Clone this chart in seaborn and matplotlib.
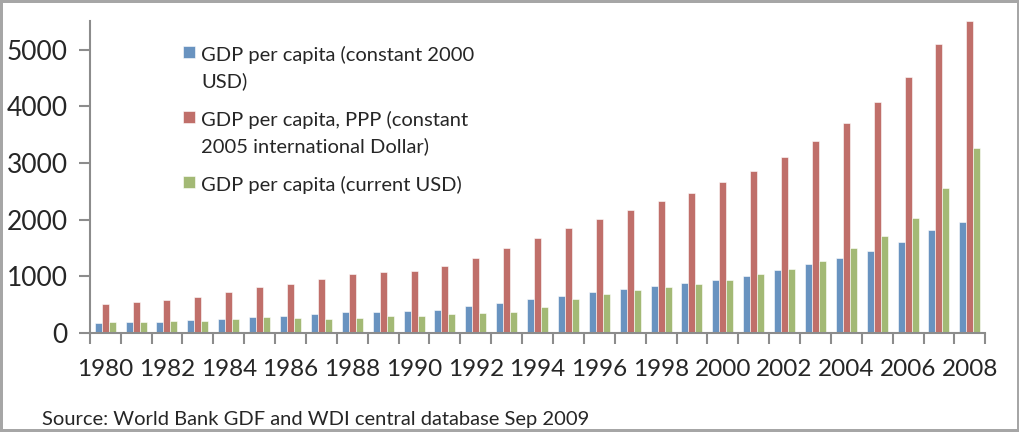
"""
GDP per capita, 1980-2008 (grouped bars)
"""
import matplotlib
matplotlib.use('Agg')
import matplotlib.pyplot as plt
import seaborn as sns
import pandas as pd
import numpy as np

years = [str(y) for y in range(1980, 2009)]

gdp_const_2000 = [176, 188, 200, 229, 247, 282, 306, 341, 365, 376,
                  388, 412, 470, 529, 600, 659, 717, 776, 823, 882,
                  941, 1011, 1105, 1211, 1317, 1446, 1611, 1811, 1964]
gdp_ppp_2005 = [517, 547, 582, 635, 717, 811, 870, 953, 1047, 1070,
                1094, 1176, 1329, 1505, 1682, 1846, 2011, 2176, 2328, 2474,
                2669, 2863, 3098, 3392, 3709, 4080, 4521, 5091, 5508]
gdp_current = [194, 188, 206, 212, 247, 282, 270, 247, 270, 306,
               306, 329, 353, 365, 459, 600, 694, 764, 811, 858,
               941, 1035, 1129, 1270, 1494, 1717, 2023, 2557, 3263]

series_names = ['GDP per capita (constant 2000\nUSD)',
                'GDP per capita, PPP (constant\n2005 international Dollar)',
                'GDP per capita (current USD)']
COLORS = ['#5B92CE', '#CE625C', '#A7C46A']

y_ticks = [0, 1000, 2000, 3000, 4000, 5000]
x_labels = years[::2]
source = 'Source: World Bank GDF and WDI central database Sep 2009'

sns.set_style('white')
plt.rcParams['font.family'] = ['Lato', 'DejaVu Sans']

df = pd.concat([
    pd.DataFrame({'year': years, 'value': vals, 'series': name})
    for name, vals in zip(series_names, [gdp_const_2000, gdp_ppp_2005, gdp_current])
])

fig = plt.figure(figsize=(10.2, 4.32), dpi=100, edgecolor='#A6A6A6', linewidth=3)
ax = fig.add_axes([0.088, 0.229, 0.878, 0.722])

sns.barplot(data=df, x='year', y='value', hue='series', order=years,
            hue_order=series_names, palette=COLORS, width=0.68,
            edgecolor='white', linewidth=0.4, ax=ax)

ax.set_xlim(-0.5, len(years) - 0.5)
ax.set_ylim(0, 5500)
ax.set_xlabel('')
ax.set_ylabel('')

ax.set_yticks(y_ticks)
ax.set_yticklabels([str(t) for t in y_ticks], fontsize=19)
ax.tick_params(axis='y', length=8, width=1.5, color='#8C8C8C', pad=8, left=True)

ax.set_xticks(range(0, len(years), 2))
ax.set_xticklabels(x_labels, fontsize=17.5)
ax.set_xticks(np.arange(-0.5, len(years), 1), minor=True)
ax.tick_params(axis='x', which='major', length=0, pad=19)
ax.tick_params(axis='x', which='minor', length=8, width=1.5, color='#8C8C8C', bottom=True)

for side in ['top', 'right']:
    ax.spines[side].set_visible(False)
for side in ['left', 'bottom']:
    ax.spines[side].set_color('#8C8C8C')
    ax.spines[side].set_linewidth(1.5)

leg = ax.legend(loc='upper left', bbox_to_anchor=(0.084, 0.98), frameon=False,
                fontsize=14.5, handlelength=0.6, handleheight=0.6, handletextpad=0.3,
                labelspacing=1.0)
for t in leg.get_texts():
    t.set_linespacing(1.6)
# put the colour square next to the first line of each label
for column in leg._legend_handle_box.get_children():
    for row in column.get_children():
        row.align = 'top'

fig.text(42 / 1020, 7 / 432, source, fontsize=14.5, va='baseline')

plt.savefig('out.png', dpi=100)
plt.close()
